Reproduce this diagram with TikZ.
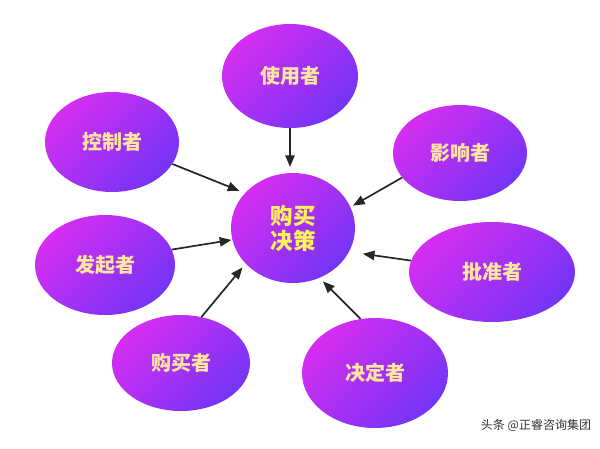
\documentclass[tikz,border=0pt]{standalone}
\usepackage{fontspec}
\newfontfamily\cjk{Noto Sans CJK SC}
\usepackage{tikz}
\usetikzlibrary{arrows}
\usetikzlibrary{shapes.geometric, positioning, calc}
\usepackage{xcolor}
\definecolor{rolemag}{HTML}{D52EF2}
\definecolor{rolevio}{HTML}{7434F6}
\definecolor{rolelbl}{HTML}{FFE6A0}
\definecolor{corelbl}{HTML}{FFF25A}

\begin{document}
\begin{tikzpicture}[x=1pt, y=-1pt,
    role/.style={ellipse, top color=rolemag, bottom color=rolevio, shading angle=45, inner sep=0pt, text=rolelbl, font=\cjk\bfseries\fontsize{20pt}{20pt}\selectfont},
    link/.style={-triangle 45, line width=1.7pt, draw=black!85, shorten >=5pt}]
  \useasboundingbox (0, 0) rectangle (600, 448);

  \node[role, minimum width=124pt, minimum height=110pt, text=corelbl, align=center, font=\cjk\bfseries\fontsize{22.5pt}{25pt}\selectfont] (core) at (293, 228) {购买\\决策};

  \node[role, minimum width=136pt, minimum height=104pt] (user) at (290, 76) {使用者};
  \node[role, minimum width=134pt, minimum height=100pt] (ctrl) at (112, 142) {控制者};
  \node[role, minimum width=134pt, minimum height=96pt] (infl) at (460, 153) {影响者};
  \node[role, minimum width=140pt, minimum height=100pt] (init) at (105, 265) {发起者};
  \node[role, minimum width=166pt, minimum height=100pt] (appr) at (492, 272) {批准者};
  \node[role, minimum width=138pt, minimum height=96pt] (buyer) at (181, 363) {购买者};
  \node[role, minimum width=146pt, minimum height=110pt] (decider) at (375, 373) {决定者};

  \draw[link, shorten >=6pt] (user.south) -- (user.south |- core.north);
  \draw[link, shorten >=6pt] (ctrl.-20) -- (core.144);
  \draw[link, shorten >=1pt] (init.13) -- (core.-169);
  \draw[link] (buyer.66) -- (core.-143);
  \draw[link, shorten >=3pt] (infl.-157) -- (core.20);
  \draw[link, shorten >=14pt] (appr.172) -- (core.-23);
  \draw[link] (decider.105) -- (core.-62);

  \node[font=\cjk\fontsize{12pt}{12pt}\selectfont, text=black!80] (mark) at (536, 425) {头条 @正睿咨询集团};
\end{tikzpicture}
\end{document}
